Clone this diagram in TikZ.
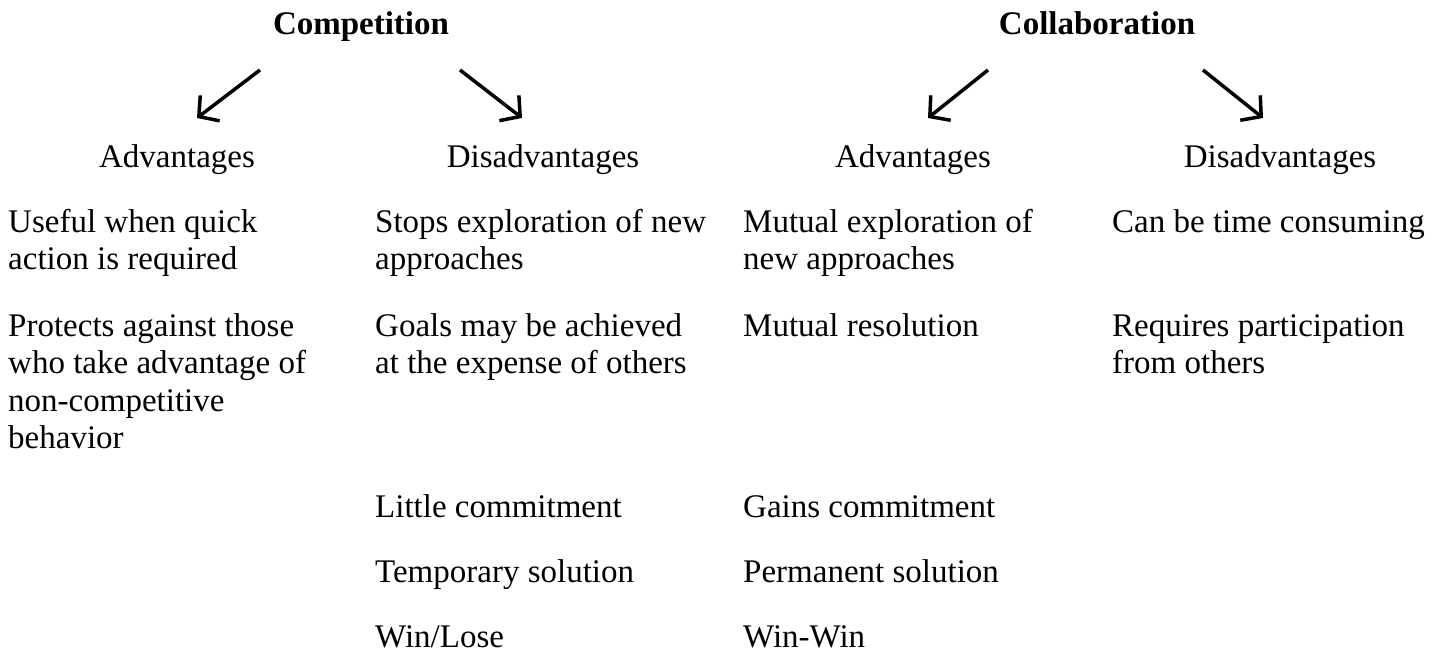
\documentclass[tikz,border=0pt]{standalone}
\usepackage{fontspec}
\setmainfont{Liberation Serif}
\usetikzlibrary{arrows.meta}
\newcommand\mlines[1]{\begin{tabular}[t]{@{}l@{}}#1\end{tabular}}
\tikzset{
  title/.style={anchor=base, inner sep=0pt, font=\fontsize{33bp}{37.5bp}\selectfont\bfseries},
  head/.style={anchor=base, inner sep=0pt, font=\fontsize{33bp}{37.5bp}\selectfont},
  item/.style={anchor=base west, inner sep=0pt, font=\fontsize{33bp}{37.5bp}\selectfont},
  branch/.style={line width=3.5bp, -{Straight Barb[length=14bp,width=32bp,line width=3.5bp]}}
}
\begin{document}
\begin{tikzpicture}[x=1bp, y=-1bp]
\useasboundingbox (0,0) rectangle (1445,652);
% titles
\node[title] (comp) at (361,35) {Competition};
\node[title] (collab) at (1097,35) {Collaboration};
% headers
\node[head] (compadv) at (177,167) {Advantages};
\node[head] (compdis) at (543,167) {Disadvantages};
\node[head] (coladv) at (913,167) {Advantages};
\node[head] (coldis) at (1280,167) {Disadvantages};
% arrows
\coordinate (t1) at (260,70);  \coordinate (h1) at (197,118);
\coordinate (t2) at (460,70);  \coordinate (h2) at (522,118);
\coordinate (t3) at (988,70);  \coordinate (h3) at (928,118);
\coordinate (t4) at (1203,70); \coordinate (h4) at (1263,118);
\draw[branch] (t1) -- (h1);
\draw[branch] (t2) -- (h2);
\draw[branch] (t3) -- (h3);
\draw[branch] (t4) -- (h4);
% column 1
\node[item] (a1) at (8,232) {\mlines{Useful when quick\\action is required}};
\node[item] (a2) at (8,336) {\mlines{Protects against those\\who take advantage of\\non-competitive\\behavior}};
% column 2
\node[item] (b1) at (375,232) {\mlines{Stops exploration of new\\approaches}};
\node[item] (b2) at (375,336) {\mlines{Goals may be achieved\\at the expense of others}};
\node[item] (b3) at (375,517) {Little commitment};
\node[item] (b4) at (375,582) {Temporary solution};
\node[item] (b5) at (375,647) {Win/Lose};
% column 3
\node[item] (c1) at (743,232) {\mlines{Mutual exploration of\\new approaches}};
\node[item] (c2) at (743,336) {Mutual resolution};
\node[item] (c3) at (743,517) {Gains commitment};
\node[item] (c4) at (743,582) {Permanent solution};
\node[item] (c5) at (743,647) {Win-Win};
% column 4
\node[item] (d1) at (1112,232) {Can be time consuming};
\node[item] (d2) at (1112,336) {\mlines{Requires participation\\from others}};
\end{tikzpicture}
\end{document}
